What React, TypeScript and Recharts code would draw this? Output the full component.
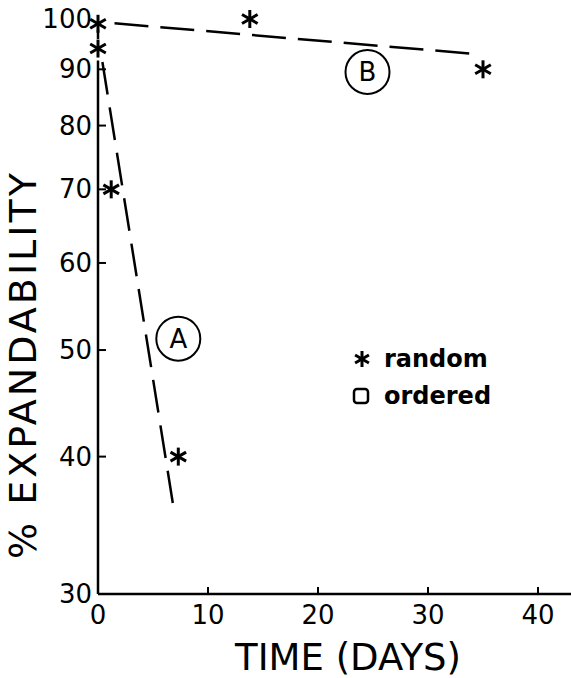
import React from 'react';
import { ComposedChart, Line, Scatter, XAxis, YAxis, ReferenceLine, ReferenceDot, Legend, Label } from 'recharts';

// "random" samples (asterisks)
const randomDays = [0, 0, 1.2, 7.3, 13.8, 35];
const randomValues = [99, 94, 70, 40, 100, 90];

// fitted dashed lines
const lineADays = [0.4, 6.8];
const lineAValues = [91.4, 36.3];
const stubDays = [0, 0];
const stubValues = [97.8, 95.9];
const lineBDays = [1.5, 34.5];
const lineBValues = [99.1, 92.9];

// circled curve labels
const curveNames = ['A', 'B'];
const curveDays = [7.3, 24.5];
const curveValues = [51.2, 89.5];

const xTicks = [0, 10, 20, 30, 40];
const yTicks = [30, 40, 50, 60, 70, 80, 90, 100];
const legendNames = ['random', 'ordered'];

const FONT = '"DejaVu Sans", sans-serif';

const toPoints = (days: number[], values: number[]) => days.map((d, i) => ({ day: d, value: values[i] }));

const randomData = toPoints(randomDays, randomValues);
const lineA = toPoints(lineADays, lineAValues);
const stub = toPoints(stubDays, stubValues);
const lineB = toPoints(lineBDays, lineBValues);

const Asterisk = ({ cx, cy, r = 9 }: { cx: number; cy: number; r?: number }) => {
  const dx = r * Math.cos(Math.PI / 6);
  const dy = r * Math.sin(Math.PI / 6);
  return (
    <g stroke="#000" strokeWidth={3} strokeLinecap="butt">
      <line x1={cx} y1={cy - r} x2={cx} y2={cy + r} />
      <line x1={cx - dx} y1={cy - dy} x2={cx + dx} y2={cy + dy} />
      <line x1={cx - dx} y1={cy + dy} x2={cx + dx} y2={cy - dy} />
    </g>
  );
};

const YTick = (props: any) => {
  const { x, y, payload } = props;
  const v = payload.value;
  return (
    <g>
      {v > 30 && v < 100 && <line x1={x} x2={x + 8} y1={y} y2={y} stroke="#000" strokeWidth={2} />}
      <text x={x - 6} y={y} textAnchor="end" dominantBaseline="central" fontSize={26} fontFamily={FONT} fill="#000">
        {v}
      </text>
    </g>
  );
};

const XTick = (props: any) => {
  const { x, y, payload } = props;
  const v = payload.value;
  return (
    <g>
      {v > 0 && <line x1={x} x2={x} y1={y} y2={y - 7} stroke="#000" strokeWidth={2} />}
      <text x={x} y={y + 21} textAnchor="middle" dominantBaseline="central" fontSize={26} fontFamily={FONT} fill="#000">
        {v}
      </text>
    </g>
  );
};

const LegendBox = () => (
  <div style={{ fontFamily: FONT, fontWeight: 'bold', fontSize: 24, color: '#000' }}>
    {legendNames.map((name, i) => (
      <div key={name} style={{ display: 'flex', alignItems: 'center', height: 37 }}>
        <svg width={24} height={24}>
          {i === 0 ? (
            <Asterisk cx={12} cy={12} r={8} />
          ) : (
            <rect x={4} y={5} width={14} height={14} rx={3} fill="none" stroke="#000" strokeWidth={2.5} />
          )}
        </svg>
        <span style={{ marginLeft: 10 }}>{name}</span>
      </div>
    ))}
  </div>
);

export default function App() {
  return (
    <div style={{ position: 'absolute', left: 0, top: 0, background: '#fff' }}>
      <ComposedChart width={571} height={678} margin={{ top: 19, right: 0, bottom: 0, left: 0 }}>
        <XAxis
          type="number"
          dataKey="day"
          domain={[0, 43]}
          ticks={xTicks}
          tick={<XTick />}
          tickSize={0}
          tickMargin={0}
          height={84}
          axisLine={{ stroke: '#000', strokeWidth: 2.5 }}
        >
          <Label
            content={({ viewBox }: any) => (
              <text
                x={viewBox.x + 250}
                y={viewBox.y + 76}
                textAnchor="middle"
                fontSize={37}
                fontFamily={FONT}
                fill="#000"
              >
                TIME (DAYS)
              </text>
            )}
          />
        </XAxis>
        <YAxis
          type="number"
          dataKey="value"
          scale="log"
          domain={[30, 100]}
          ticks={yTicks}
          tick={<YTick />}
          tickSize={0}
          tickMargin={0}
          width={98}
          axisLine={false}
        >
          <Label
            content={({ viewBox }: any) => {
              const cx = viewBox.x + 23;
              const cy = viewBox.y + viewBox.height / 2 + 58;
              return (
                <text
                  x={cx}
                  y={cy}
                  transform={`rotate(-90 ${cx} ${cy})`}
                  textAnchor="middle"
                  dominantBaseline="central"
                  fontSize={38}
                  letterSpacing={3}
                  fontFamily={FONT}
                  fill="#000"
                >
                  % EXPANDABILITY
                </text>
              );
            }}
          />
        </YAxis>
        <ReferenceLine segment={[{ x: 0, y: 30 }, { x: 0, y: 91.7 }]} stroke="#000" strokeWidth={2.5} />
        <Line data={stub} dataKey="value" stroke="#000" strokeWidth={2.5} dot={false} isAnimationActive={false} />
        <Line
          data={lineA}
          dataKey="value"
          stroke="#000"
          strokeWidth={2.5}
          strokeDasharray="33 13"
          dot={false}
          isAnimationActive={false}
        />
        <Line
          data={lineB}
          dataKey="value"
          stroke="#000"
          strokeWidth={2.5}
          strokeDasharray="34 12"
          dot={false}
          isAnimationActive={false}
        />
        <Scatter data={randomData} dataKey="value" shape={(p: any) => <Asterisk cx={p.cx} cy={p.cy} />} isAnimationActive={false} />
        {curveNames.map((name, i) => (
          <ReferenceDot
            key={name}
            x={curveDays[i]}
            y={curveValues[i]}
            r={22}
            fill="#fff"
            stroke="#000"
            strokeWidth={2}
            label={{ value: name, position: 'center', fontSize: 26, fontFamily: FONT, fill: '#000' }}
          />
        ))}
        <Legend
          layout="vertical"
          align="center"
          verticalAlign="middle"
          content={<LegendBox />}
          wrapperStyle={{ left: 350, top: 340, width: 170, height: 76 }}
        />
      </ComposedChart>
    </div>
  );
}
